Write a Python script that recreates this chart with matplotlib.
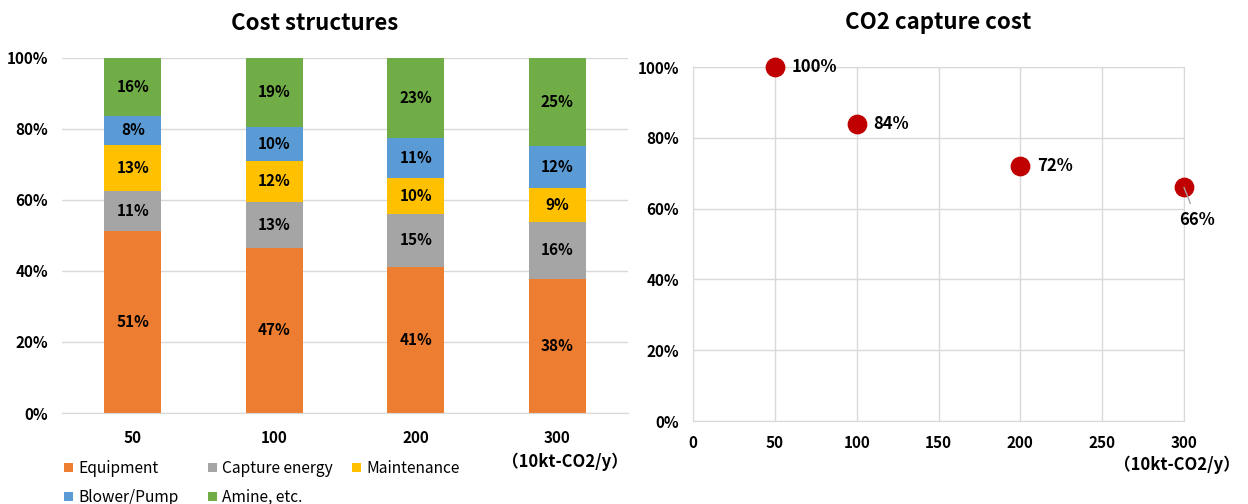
import matplotlib
matplotlib.use("Agg")
import matplotlib.pyplot as plt
import numpy as np

plt.rcParams['font.family'] = ['Noto Sans CJK JP', 'DejaVu Sans']

# ---- data ----
categories = ["50", "100", "200", "300"]
equipment = [51.4, 46.6, 41.2, 37.8]
capture_energy = [11.2, 12.9, 14.8, 16.1]
maintenance = [12.8, 11.6, 10.3, 9.4]
blower_pump = [8.4, 9.6, 11.1, 12.0]
amine = [16.2, 19.3, 22.6, 24.7]
series_names = ["Equipment", "Capture energy", "Maintenance", "Blower/Pump", "Amine, etc."]
series_colors = ["#ED7D31", "#A5A5A5", "#FFC000", "#5B9BD5", "#70AD47"]

scale_x = [50, 100, 200, 300]
capture_cost = [100, 84, 72, 66]
unit_label = "（10kt-CO2/y）"

fig = plt.figure(figsize=(12.48, 5.04), dpi=100)
px = 72.0 / 100.0  # points per pixel

# ---- left: stacked bars ----
ax1 = fig.add_axes([62/1248, 1-413/504, (628-62)/1248, (413-58)/504])
series = [equipment, capture_energy, maintenance, blower_pump, amine]
x = np.arange(len(categories))
bottom = np.zeros(len(categories))
handles = []
for name, vals, col in zip(series_names, series, series_colors):
    v = np.array(vals) / 100.0
    b = ax1.bar(x, v, width=0.4, bottom=bottom, color=col, label=name, zorder=2)
    handles.append(b)
    for xi, vi, bi in zip(x, vals, bottom):
        ax1.text(xi, bi + vi/200.0, f"{vi:.0f}%", ha='center', va='center',
                 fontsize=11, fontweight='bold', color='black', zorder=3)
    bottom = bottom + v

ax1.set_xlim(-0.5, 3.5)
ax1.set_ylim(0, 1)
ax1.set_yticks(np.linspace(0, 1, 6))
ax1.set_yticklabels([f"{int(t*100)}%" for t in np.linspace(0, 1, 6)],
                    fontsize=11, fontweight='bold')
ax1.set_xticks(x)
ax1.set_xticklabels(categories, fontsize=11, fontweight='bold')
ax1.tick_params(length=0, pad=10)
ax1.tick_params(axis='x', pad=12)
ax1.grid(axis='y', color='#D9D9D9', linewidth=1, zorder=0)
for s in ['top', 'right', 'left']:
    ax1.spines[s].set_visible(False)
ax1.spines['bottom'].set_color('#D9D9D9')
ax1.set_axisbelow(True)
fig.text(315/1248, 1-23/504, "Cost structures", ha='center', va='center',
         fontsize=16, fontweight='bold')
fig.text(565/1248, 1-462/504, unit_label, ha='center', va='center',
         fontsize=12, fontweight='bold')

# legend laid out row-wise in three columns
columns = [[0, 3], [1, 4], [2]]
col_x = [64, 208, 352]
for cols, cx in zip(columns, col_x):
    fig.legend([handles[i] for i in cols], [series_names[i] for i in cols],
               ncol=1, loc='upper left', bbox_to_anchor=(cx/1248, 1-460/504),
               frameon=False, fontsize=11.2, handlelength=0.55, handleheight=0.55,
               handletextpad=0.35, labelspacing=0.78,
               borderaxespad=0, borderpad=0)

# ---- right: scatter ----
ax2 = fig.add_axes([693/1248, 1-421/504, (1184-693)/1248, (421-67)/504])
ax2.scatter(scale_x, np.array(capture_cost)/100.0, s=175, color='#C00000', zorder=3,
            clip_on=False)
for xi, yi in zip(scale_x[:3], capture_cost[:3]):
    ax2.annotate(f"{yi}%", (xi, yi/100.0), xytext=(12, 0), textcoords='offset points',
                 ha='left', va='center', fontsize=12, fontweight='bold')
ax2.annotate(f"{capture_cost[3]}%", (scale_x[3], capture_cost[3]/100.0),
             xytext=(13*px, -33*px), textcoords='offset points', ha='center', va='center',
             fontsize=12, fontweight='bold',
             arrowprops=dict(arrowstyle='-', color='#A5A5A5', lw=1,
                             shrinkA=4, shrinkB=0))
ax2.set_xlim(0, 300)
ax2.set_ylim(0, 1)
ax2.set_xticks(np.arange(0, 301, 50))
ax2.set_xticklabels([str(t) for t in range(0, 301, 50)], fontsize=11, fontweight='bold')
ax2.set_yticks(np.linspace(0, 1, 6))
ax2.set_yticklabels([f"{int(t*100)}%" for t in np.linspace(0, 1, 6)],
                    fontsize=11, fontweight='bold')
ax2.tick_params(length=0, pad=10)
ax2.grid(True, color='#D9D9D9', linewidth=1, zorder=0)
for s in ax2.spines.values():
    s.set_color('#D9D9D9')
ax2.set_axisbelow(True)
fig.text(938/1248, 1-23/504, "CO2 capture cost", ha='center', va='center',
         fontsize=16, fontweight='bold')
fig.text(1177/1248, 1-465/504, unit_label, ha='center', va='center',
         fontsize=12, fontweight='bold')

fig.savefig("out.png", dpi=100)
